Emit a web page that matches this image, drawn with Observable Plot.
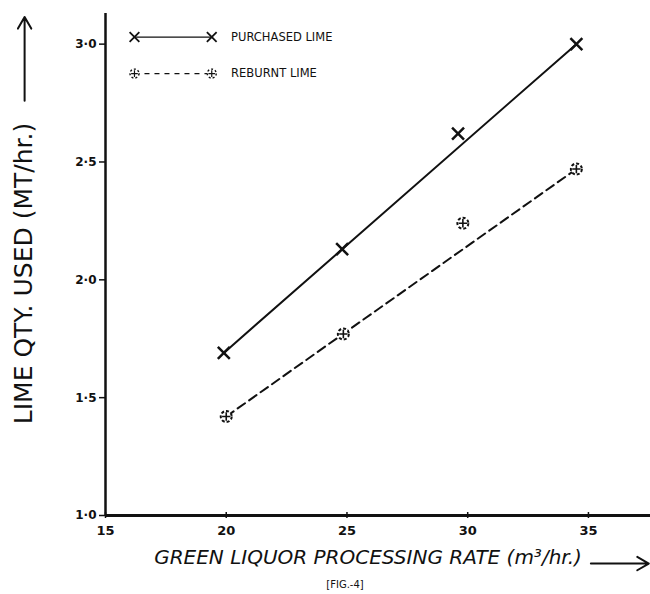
<!DOCTYPE html>
<html><head><meta charset="utf-8">
<script src="https://cdn.jsdelivr.net/npm/d3@7"></script>
<script src="https://cdn.jsdelivr.net/npm/@observablehq/plot@0.6"></script>
<style>body{margin:0;background:#fff}</style>
</head><body><div id="chart"></div>
<script>
// Observed points
const purchasedRate = [19.9, 24.8, 29.6, 34.5];
const purchasedLime = [1.69, 2.13, 2.62, 3.0];
const reburntRate = [20.0, 24.85, 29.8, 34.5];
const reburntLime = [1.42, 1.77, 2.24, 2.47];
// Hand-fitted straight lines (end points)
const purchasedFitX = [19.9, 34.5];
const purchasedFitY = [1.69, 3.0];
const reburntFitX = [20.0, 34.5];
const reburntFitY = [1.42, 2.47];
// Axes
const xTicks = [15, 20, 25, 30, 35];
const yTicks = [1.0, 1.5, 2.0, 2.5, 3.0];
const seriesNames = ["PURCHASED LIME", "REBURNT LIME"];
const xTitle = "GREEN LIQUOR PROCESSING RATE (m³/hr.)";
const yTitle = "LIME QTY. USED (MT/hr.)";
const caption = "[FIG.-4]";
// Legend / arrow placement (in axis units)
const legendX = [16.2, 19.4];
const legendY = [3.03, 2.875];
const legendTextX = 20.2;

const toRows = (xs, ys) => xs.map((x, i) => ({x, y: ys[i]}));
const ink = "#111";

const chart = Plot.plot({
  width: 650, height: 594,
  marginLeft: 105, marginRight: 0, marginTop: 13, marginBottom: 79,
  x: {domain: [15, 37.57]},
  y: {domain: [1, 3.13]},
  style: {fontFamily: "'DejaVu Sans', sans-serif", background: "#fff", color: ink, overflow: "visible"},
  marks: [
    // axis lines
    Plot.ruleX([15], {stroke: ink, strokeWidth: 2.5}),
    Plot.ruleY([1], {stroke: ink, strokeWidth: 3}),
    // x ticks crossing the axis
    Plot.axisX({ticks: xTicks, tickSize: 6, dy: -3, fill: "none", label: null, stroke: ink, strokeWidth: 1.5}),
    Plot.axisX({ticks: xTicks, tickSize: 0, tickPadding: 10, label: null, fontSize: 13, fontWeight: "bold", fill: ink}),
    Plot.axisY({ticks: yTicks, tickSize: 6, tickPadding: 3, label: null, fontSize: 12, fontWeight: "bold",
      tickFormat: d => d.toFixed(1).replace(".", "·"), stroke: ink, strokeWidth: 1.5, fill: ink}),
    // fitted lines
    Plot.line(toRows(purchasedFitX, purchasedFitY), {x: "x", y: "y", stroke: ink, strokeWidth: 2}),
    Plot.line(toRows(reburntFitX, reburntFitY), {x: "x", y: "y", stroke: ink, strokeWidth: 2, strokeDasharray: "9,5"}),
    // points
    Plot.dot(toRows(purchasedRate, purchasedLime), {x: "x", y: "y", symbol: "times", r: 5.5, stroke: ink, strokeWidth: 2.5}),
    Plot.dot(toRows(reburntRate, reburntLime), {x: "x", y: "y", symbol: "circle", r: 5.5, fill: "#fff", stroke: ink, strokeWidth: 2, strokeDasharray: "3,2"}),
    Plot.dot(toRows(reburntRate, reburntLime), {x: "x", y: "y", symbol: "plus", r: 2.8, stroke: ink, strokeWidth: 1.6}),
    // legend
    Plot.link([0], {x1: legendX[0], x2: legendX[1], y1: legendY[0], y2: legendY[0], stroke: ink, strokeWidth: 1.2}),
    Plot.link([0], {x1: legendX[0], x2: legendX[1], y1: legendY[1], y2: legendY[1], stroke: ink, strokeWidth: 1.2, strokeDasharray: "5,5"}),
    Plot.dot(legendX, {x: d => d, y: legendY[0], symbol: "times", r: 4.5, stroke: ink, strokeWidth: 1.8}),
    Plot.dot(legendX, {x: d => d, y: legendY[1], symbol: "circle", r: 4.5, fill: "#fff", stroke: ink, strokeWidth: 1.4, strokeDasharray: "2,2"}),
    Plot.dot(legendX, {x: d => d, y: legendY[1], symbol: "plus", r: 2.3, stroke: ink, strokeWidth: 1.2}),
    Plot.text(seriesNames, {x: legendTextX, y: (d, i) => legendY[i], text: d => d, textAnchor: "start", fontSize: 11.5, fill: ink, style: "letter-spacing:1px"}),
    // axis titles with arrows
    Plot.text([yTitle], {frameAnchor: "left", textAnchor: "middle", rotate: -90, dx: -82, dy: 9, fontSize: 25, fill: ink, text: d => d}),
    Plot.arrow([0], {x1: 11.65, x2: 11.65, y1: 2.76, y2: 3.115, stroke: ink, strokeWidth: 2, headLength: 10}),
    Plot.text([xTitle], {frameAnchor: "bottom", dx: -10, dy: 48, fontSize: 20, fontStyle: "italic", fill: ink, text: d => d}),
    Plot.arrow([0], {x1: 35.1, x2: 37.5, y1: 0.796, y2: 0.796, stroke: ink, strokeWidth: 2, headLength: 10}),
    Plot.text([caption], {frameAnchor: "bottom", dx: -33, dy: 72, fontSize: 10, fill: ink, text: d => d})
  ]
});
document.getElementById("chart").appendChild(chart);
</script>
</body></html>
